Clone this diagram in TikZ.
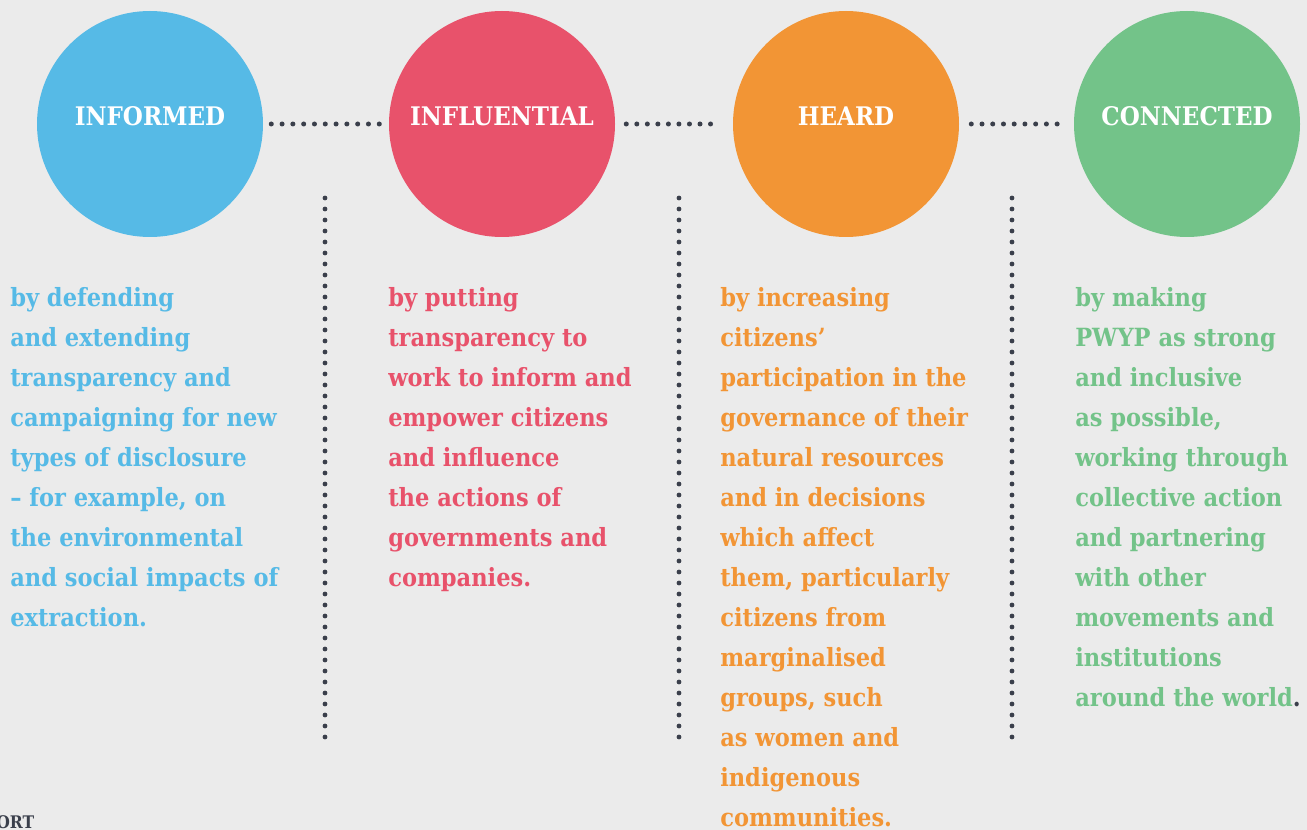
\documentclass[tikz,border=0pt]{standalone}
\usepackage{fontspec}
\setmainfont{DejaVu Serif}[FakeStretch=0.9]
\definecolor{bgc}{HTML}{EBEBEB}
\definecolor{cblue}{HTML}{56BAE6}
\definecolor{cred}{HTML}{E8526B}
\definecolor{corange}{HTML}{F29535}
\definecolor{cgreen}{HTML}{73C389}
\definecolor{dotc}{HTML}{3A3F4B}
\tikzset{
  disc/.style={circle, minimum size=169.5pt, inner sep=0pt, fill=#1},
  disclabel/.style={font=\bfseries\fontsize{19.2}{22}\selectfont, text=white, inner sep=0pt, anchor=base},
  dotline/.style={dotc, line width=3.75pt, line cap=round, dash pattern=on 0pt off #1},
  dotline/.default=8.1pt,
  vdotline/.style={dotc, line width=3.6pt, line cap=round, dash pattern=on 0pt off 8.25pt},
  body/.style={font=\bfseries\fontsize{18.8}{30}\selectfont, text=#1, align=left, inner sep=0pt, anchor=north west},
}
\begin{document}
\begin{tikzpicture}[x=0.75pt, y=-0.75pt]
  \useasboundingbox (0,0) rectangle (1307,830);
  \fill[bgc] (0,0) rectangle (1307,830);

  % four circles
  \node[disc=cblue]   (c1) at (150,124) {};
  \node[disc=cred]    (c2) at (502,124) {};
  \node[disc=corange] (c3) at (846,124) {};
  \node[disc=cgreen]  (c4) at (1187,124) {};

  \node[disclabel] (l1) at (150,126) {INFORMED};
  \node[disclabel] (l2) at (502,126) {INFLUENTIAL};
  \node[disclabel] (l3) at (846,126) {HEARD};
  \node[disclabel] (l4) at (1187,126) {CONNECTED};

  % dotted links between circles
  \draw[dotline] ([xshift=6pt]c1.east) -- ([xshift=-6pt]c2.west);
  \draw[dotline=7.9pt] ([xshift=8.25pt]c2.east) -- ([xshift=-9.5pt]c3.west);
  \draw[dotline=8.05pt] ([xshift=9pt]c3.east) -- ([xshift=-5pt]c4.west);

  % vertical dotted separators
  \coordinate (s1a) at (325,198); \coordinate (s1b) at (325,740);
  \coordinate (s2a) at (679,198); \coordinate (s2b) at (679,740);
  \coordinate (s3a) at (1012,198); \coordinate (s3b) at (1012,740);
  \draw[vdotline] (s1a) -- (s1b);
  \draw[vdotline] (s2a) -- (s2b);
  \draw[vdotline] (s3a) -- (s3b);

  % descriptions
  \node[body=cblue] (t1) at (10,287) {by defending\\and extending\\transparency and\\campaigning for new\\types of disclosure\\– for example, on\\the environmental\\and social impacts of\\extraction.};
  \node[body=cred] (t2) at (388,287) {by putting\\transparency to\\work to inform and\\empower citizens\\and influence\\the actions of\\governments and\\companies.};
  \node[body=corange] (t3) at (720,287) {by increasing\\citizens’\\participation in the\\governance of their\\natural resources\\and in decisions\\which affect\\them, particularly\\citizens from\\marginalised\\groups, such\\as women and\\indigenous\\communities.};
  \node[body=cgreen] (t4) at (1075,287) {by making\\PWYP as strong\\and inclusive\\as possible,\\working through\\collective action\\and partnering\\with other\\movements and\\institutions\\around the world\textcolor{dotc}{.}};

  % page footer fragment
  \node[font=\bfseries\fontsize{13}{15}\selectfont, text=dotc, inner sep=0pt, anchor=base west] (ft) at (-4,828) {ORT};
\end{tikzpicture}
\end{document}
